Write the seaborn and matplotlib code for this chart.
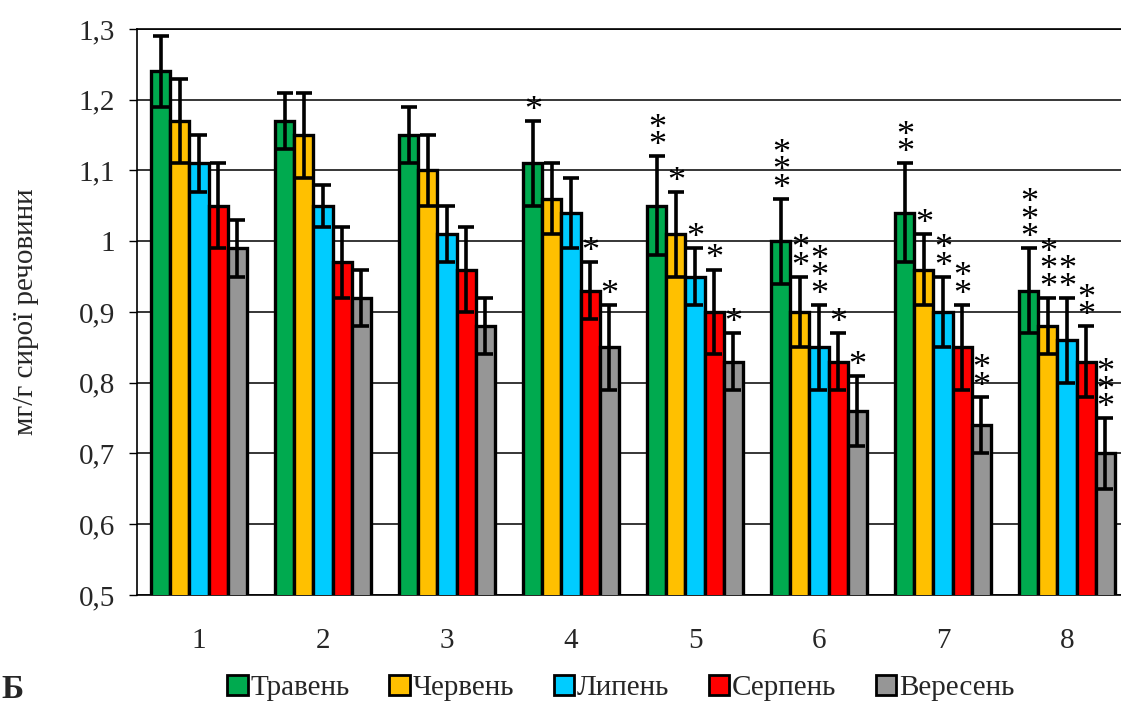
import numpy as np
import pandas as pd
import matplotlib
matplotlib.use("Agg")
import matplotlib.pyplot as plt
from matplotlib.patches import Patch
import seaborn as sns

groups = ["1", "2", "3", "4", "5", "6", "7", "8"]
months = ["Травень", "Червень", "Липень", "Серпень", "Вересень"]
colors = ["#00AA4F", "#FFC000", "#00CCFF", "#FF0000", "#969696"]

travень = [1.24, 1.17, 1.15, 1.11, 1.05, 1.00, 1.04, 0.93]
cherven = [1.17, 1.15, 1.10, 1.06, 1.01, 0.90, 0.96, 0.88]
lypen = [1.11, 1.05, 1.01, 1.04, 0.95, 0.85, 0.90, 0.86]
serpen = [1.05, 0.97, 0.96, 0.93, 0.90, 0.83, 0.85, 0.83]
veresen = [0.99, 0.92, 0.88, 0.85, 0.83, 0.76, 0.74, 0.70]

err_travень = [0.05, 0.04, 0.04, 0.06, 0.07, 0.06, 0.07, 0.06]
err_cherven = [0.06, 0.06, 0.05, 0.05, 0.06, 0.05, 0.05, 0.04]
err_lypen = [0.04, 0.03, 0.04, 0.05, 0.04, 0.06, 0.05, 0.06]
err_serpen = [0.06, 0.05, 0.06, 0.04, 0.06, 0.04, 0.06, 0.05]
err_veresen = [0.04, 0.04, 0.04, 0.06, 0.04, 0.05, 0.04, 0.05]

# number of significance asterisks above each bar
stars_travень = [0, 0, 0, 1, 2, 3, 2, 3]
stars_cherven = [0, 0, 0, 0, 1, 2, 1, 3]
stars_lypen = [0, 0, 0, 0, 1, 3, 2, 2]
stars_serpen = [0, 0, 0, 1, 1, 1, 2, 2]
stars_veresen = [0, 0, 0, 1, 1, 1, 2, 3]

series = [travень, cherven, lypen, serpen, veresen]
errors = [err_travень, err_cherven, err_lypen, err_serpen, err_veresen]
stars = [stars_travень, stars_cherven, stars_lypen, stars_serpen, stars_veresen]

rows = []
for m, vals in zip(months, series):
    for g, v in zip(groups, vals):
        rows.append({"group": g, "month": m, "value": v})
df = pd.DataFrame(rows)

sns.set_theme(style="white")
plt.rcParams["font.family"] = ["Liberation Serif", "DejaVu Serif"]
plt.rcParams["axes.unicode_minus"] = False

W, H = 1121, 706
fig = plt.figure(figsize=(W / 100, H / 100), dpi=100)
ax = fig.add_axes([137 / W, 1 - 595 / H, 992 / W, (595 - 29) / H])

sns.barplot(data=df, x="group", y="value", hue="month", hue_order=months,
            order=groups, palette=colors, saturation=1, width=0.77,
            edgecolor="black", linewidth=2.4, errorbar=None, ax=ax,
            legend=False, zorder=3)

for cont, errs, st in zip(ax.containers, errors, stars):
    for bar, e, n in zip(cont, errs, st):
        xc = bar.get_x() + bar.get_width() / 2
        yv = bar.get_height()
        ax.errorbar(xc, yv, yerr=e, fmt="none", ecolor="black",
                    elinewidth=2.6, capsize=5.5, capthick=2.6, zorder=4)
        if n:
            # stacked significance marks, one per line
            ax.annotate("\n".join(["*"] * n), xy=(xc, yv + e), xytext=(0, -5),
                        textcoords="offset points", ha="center", va="bottom",
                        fontsize=26, linespacing=0.38, color="black", zorder=5)

ax.set_ylim(0.5, 1.3)
ax.set_xlim(-0.5, 7.5)
yt = np.round(np.arange(0.5, 1.31, 0.1), 1)
ax.set_yticks(yt)
ax.set_yticklabels([f"{v:g}".replace(".", ",") for v in yt], fontsize=21)
ax.yaxis.grid(True, color="black", linewidth=1.1, zorder=0)
ax.set_axisbelow(True)
ax.set_xticks(range(len(groups)))
ax.set_xticklabels(groups, fontsize=21)
ax.set_xticks(np.arange(-0.5, len(groups), 1.0), minor=True)
ax.tick_params(axis="x", which="major", length=0, pad=24)
ax.tick_params(axis="x", which="minor", length=6, width=1, color="black", direction="out")
ax.tick_params(axis="y", length=6, width=1, color="black", direction="out", left=True, pad=10)
ax.set_xlabel("")
ax.set_ylabel("мг/г сирої речовини", fontsize=21, labelpad=28)
for s in ax.spines.values():
    s.set_color("black")
    s.set_linewidth(1.2)
ax.spines["right"].set_visible(False)

handles = [Patch(facecolor=c, edgecolor="black", linewidth=2) for c in colors]
fig.legend(handles, months, loc="center", bbox_to_anchor=(621 / W, 1 - 688 / H),
           ncol=5, frameon=False, fontsize=21, handlelength=0.7, handleheight=0.7,
           handletextpad=0.1, columnspacing=1.35)

fig.text(0.001, 1 - 690 / H, "Б", fontsize=24, fontweight="bold", va="center", ha="left")

fig.savefig("out.png", dpi=100)
